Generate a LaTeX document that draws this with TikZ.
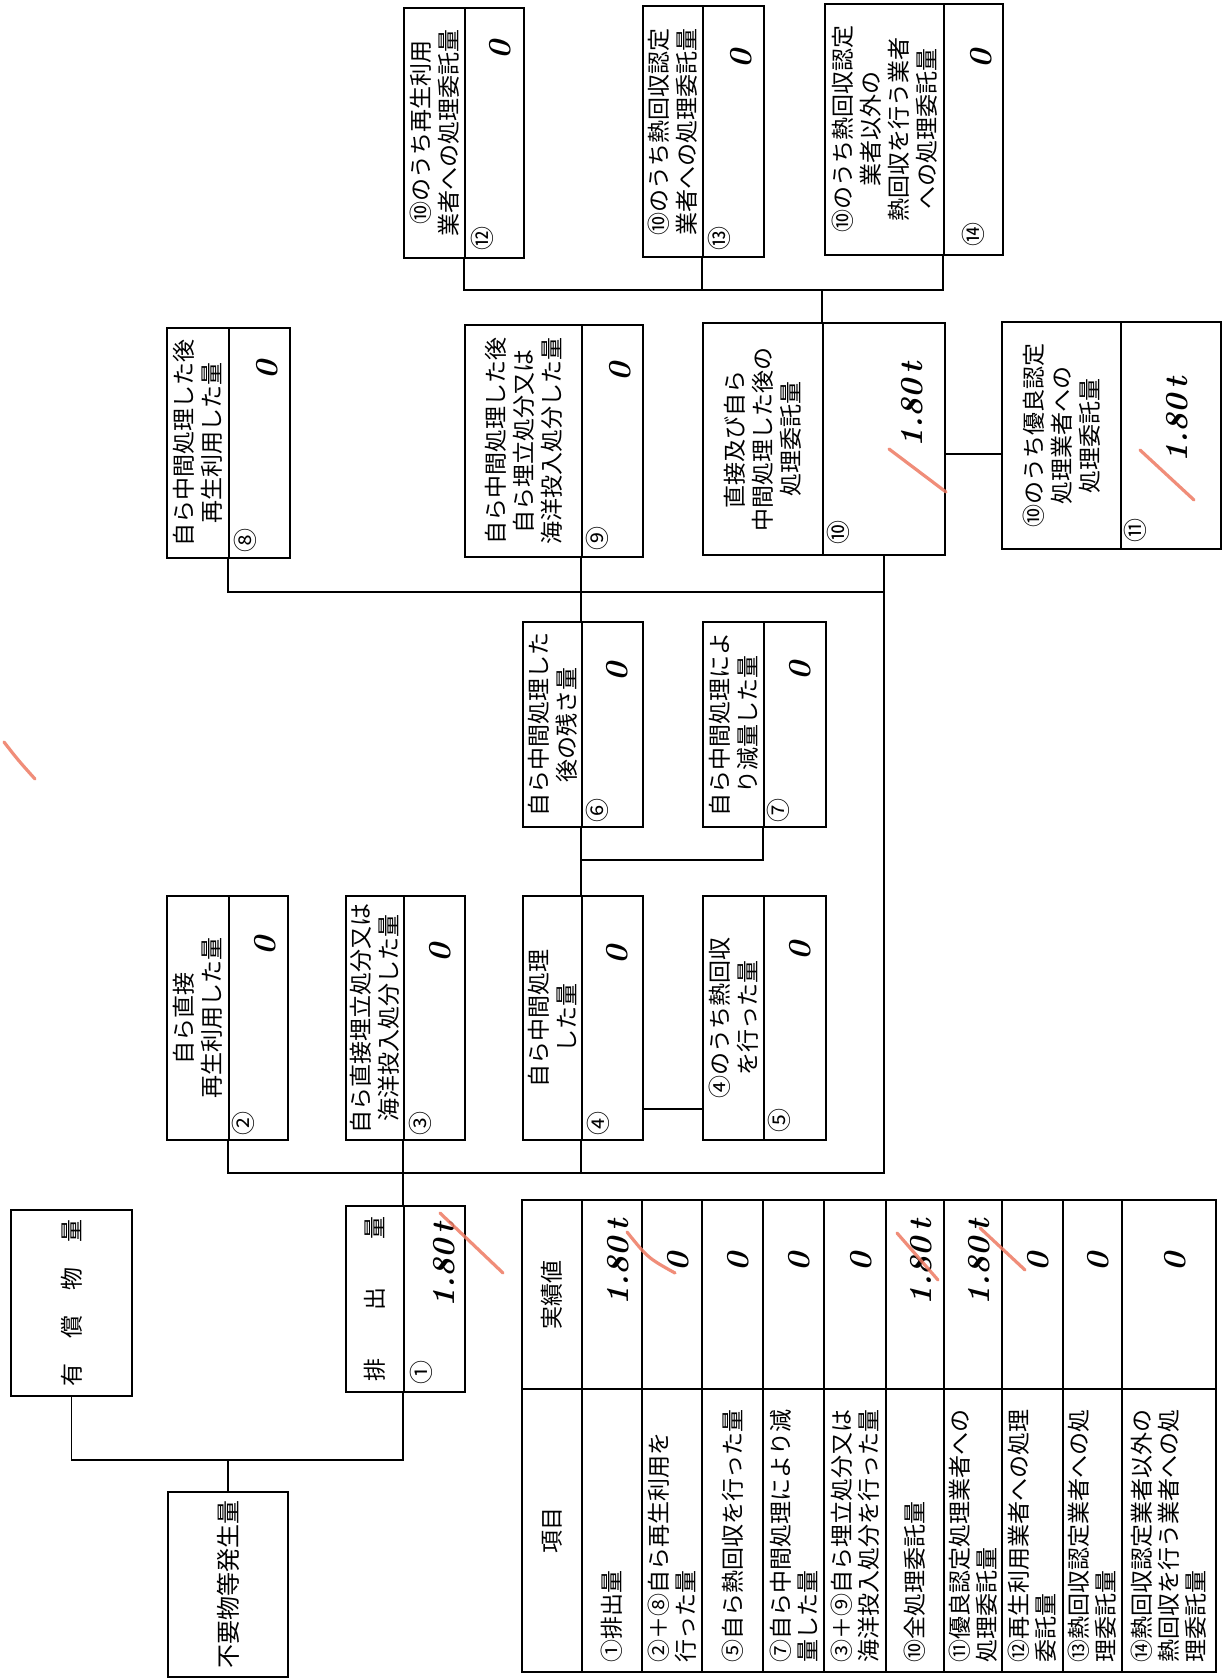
\documentclass[tikz,border=0pt]{standalone}
\usepackage{fontspec}
\newfontfamily\jpfont{Noto Sans CJK JP}
\usetikzlibrary{fit,calc}
\definecolor{inkred}{RGB}{238,122,98}
\tikzset{
  cellbox/.style={draw,line width=0.9pt,inner sep=0pt},
  labtxt/.style={rotate=90,inner sep=0pt,align=center,font=\jpfont\fontsize{11.5}{14}\selectfont},
  circnum/.style={rotate=90,inner sep=0pt,font=\jpfont\fontsize{12}{12}\selectfont},
  handval/.style={rotate=90,inner sep=0pt,font=\fontsize{16}{16}\selectfont\bfseries\itshape},
  itemtxt/.style={rotate=90,inner sep=0pt,align=left,font=\jpfont\fontsize{11.5}{13.5}\selectfont},
  wire/.style={line width=0.9pt},
  tick/.style={inkred,line width=1.6pt,line cap=round,opacity=0.85},
}
% box = label part + value part (split at the divider)
\newcommand\formbox[7]{%
  \node[cellbox,fit={(#2,#5) (#3,#6)}] (#1l) {};
  \node[cellbox,fit={(#3,#5) (#4,#6)}] (#1v) {};
  \node[labtxt] (#1t) at (#1l.center) {#7};
}

\begin{document}
\begin{tikzpicture}[x=0.5pt,y=-0.5pt]
\fill[white] (0,0) rectangle (1222,1680);
\useasboundingbox (0,0) rectangle (1222,1680);

% generation
\node[cellbox,fit={(11,1210) (132,1396)}] (yusho) {};
\node[labtxt] (yushot) at (yusho.center) {有\hspace{12.5pt}償\hspace{12.5pt}物\hspace{12.5pt}量};
\node[cellbox,fit={(168,1492) (288,1677)}] (fuyo) {};
\node[labtxt,font=\jpfont\fontsize{12}{14}\selectfont] (fuyot) at (fuyo.center) {不要物等発生量};

% flow boxes
\formbox{b1}{346}{404}{465}{1206}{1392}{排\hspace{24pt}出\hspace{24pt}量}
\formbox{b2}{167}{229}{288}{896}{1140}{自ら直接\\再生利用した量}
\formbox{b3}{346}{404}{465}{896}{1140}{自ら直接埋立処分又は\\海洋投入処分した量}
\formbox{b4}{523}{582}{643}{896}{1140}{自ら中間処理\\した量}
\formbox{b5}{703}{764}{826}{896}{1140}{④のうち熱回収\\を行った量}
\formbox{b6}{523}{582}{643}{622}{827}{自ら中間処理した\\後の残さ量}
\formbox{b7}{703}{764}{826}{622}{827}{自ら中間処理によ\\り減量した量}
\formbox{b8}{167}{229}{290}{328}{558}{自ら中間処理した後\\再生利用した量}
\formbox{b9}{465}{582}{643}{325}{557}{自ら中間処理した後\\自ら埋立処分又は\\海洋投入処分した量}
\formbox{b10}{703}{823}{945}{323}{555}{直接及び自ら\\中間処理した後の\\処理委託量}
\formbox{b11}{1002}{1121}{1221}{322}{549}{⑩のうち優良認定\\処理業者への\\処理委託量}
\formbox{b12}{404}{465}{524}{8}{258}{⑩のうち再生利用\\業者への処理委託量}
\formbox{b13}{643}{703}{764}{6}{257}{⑩のうち熱回収認定\\業者への処理委託量}
\formbox{b14}{825}{944}{1003}{4}{255}{⑩のうち熱回収認定\\業者以外の\\熱回収を行う業者\\への処理委託量}

% circled numbers
\node[circnum] (n1) at (421,1372) {①};
\node[circnum] (n2) at (243,1123) {②};
\node[circnum] (n3) at (420,1123) {③};
\node[circnum] (n4) at (598,1123) {④};
\node[circnum] (n5) at (779,1120) {⑤};
\node[circnum] (n6) at (597,810) {⑥};
\node[circnum] (n7) at (778,810) {⑦};
\node[circnum] (n8) at (245,540) {⑧};
\node[circnum] (n9) at (597,538) {⑨};
\node[circnum] (n10) at (838,532) {⑩};
\node[circnum] (n11) at (1135,530) {⑪};
\node[circnum] (n12) at (482,238) {⑫};
\node[circnum] (n13) at (719,238) {⑬};
\node[circnum] (n14) at (973,235) {⑭};

% handwritten values
\node[handval] (h1) at (444,1265) {1.80\,t};
\node[handval] (h2) at (265,946) {0};
\node[handval] (h3) at (440,953) {0};
\node[handval] (h4) at (617,955) {0};
\node[handval] (h5) at (800,951) {0};
\node[handval] (h6) at (617,672) {0};
\node[handval] (h7) at (800,671) {0};
\node[handval] (h8) at (267,370) {0};
\node[handval] (h9) at (620,372) {0};
\node[handval] (h10) at (912,405) {1.80\,t};
\node[handval] (h11) at (1177,420) {1.80\,t};
\node[handval] (h12) at (500,50) {0};
\node[handval] (h13) at (741,59) {0};
\node[handval] (h14) at (981,59) {0};

% connector levels
\coordinate (genbus) at (200,1460);
\coordinate (lowbus) at (600,1173);
\coordinate (midbus) at (600,592);
\coordinate (topbus) at (600,290);
\coordinate (c45) at (670,1109);
\coordinate (c67) at (670,860);
\coordinate (c1011) at (970,454);

\draw[wire] (yusho.south) |- (b1v.south west |- genbus) -- (b1v.south west);
\draw[wire] (fuyo.north) -- (fuyo.north |- genbus);
\draw[wire] (b1v.north west) -- (b3v.south west);
\draw[wire] (b2v.south west) |- (b10v.south |- lowbus) -- (b10v.south);
\draw[wire] (b4v.south west) -- (b4v.south west |- lowbus);
\draw[wire] (b4v.north west) -- (b6v.south west);
\draw[wire] (b4v.east |- c45) -- (b5l.west |- c45);
\draw[wire] (b7v.south west) |- (b6v.south west |- c67);
\draw[wire] (b6v.north west) -- (b9v.south west);
\draw[wire] (b8v.south west) |- (b10v.south |- midbus);
\draw[wire] (b10v.east |- c1011) -- (b11l.west |- c1011);
\draw[wire] (b10v.north west) -- (b10v.north west |- topbus);
\draw[wire] (b12v.south west) |- (b14v.south west |- topbus) -- (b14v.south west);
\draw[wire] (b13v.south west) -- (b13v.south west |- topbus);

% results table
\node[cellbox,fit={(522,1200) (582,1389)}] (tv0) {};
\node[cellbox,fit={(522,1389) (582,1672)}] (ti0) {};
\node[itemtxt] (th0) at (tv0) {実績値};
\node[itemtxt] (tn0) at (ti0) {項目};
\foreach \xa/\xb/\k/\itm/\val in {
  582/642/1/{①排出量}/{1.80\,t},
  642/702/2/{②＋⑧自ら再生利用を\\行った量}/0,
  702/763/3/{⑤自ら熱回収を行った量}/0,
  763/824/4/{⑦自ら中間処理により減\\量した量}/0,
  824/886/5/{③＋⑨自ら埋立処分又は\\海洋投入処分を行った量}/0,
  886/944/6/{⑩全処理委託量}/{1.80\,t},
  944/1002/7/{⑪優良認定処理業者への\\処理委託量}/{1.80\,t},
  1002/1063/8/{⑫再生利用業者への処理\\委託量}/0,
  1063/1122/9/{⑬熱回収認定業者への処\\理委託量}/0,
  1122/1216/10/{⑭熱回収認定業者以外の\\熱回収を行う業者への処\\理委託量}/0}
{
  \node[cellbox,fit={(\xa,1200) (\xb,1389)}] (tv\k) {};
  \node[cellbox,fit={(\xa,1389) (\xb,1672)}] (ti\k) {};
  \node[itemtxt,anchor=west] (tn\k) at ($(ti\k.south)+(0,-10)$) {\itm};
  \node[handval] (th\k) at ($(tv\k.center)+(6,-32)$) {\val};
}

% red check marks
\draw[tick] (440,1213) -- (503,1273);
\draw[tick] (4,742) .. controls (18,760) .. (35,779);
\draw[tick] (889,449) -- (946,492);
\draw[tick] (1140,450) -- (1194,500);
\draw[tick] (627,1232) .. controls (648,1258) .. (675,1273);
\draw[tick] (897,1233) -- (938,1280);
\draw[tick] (980,1228) -- (1025,1270);
\end{tikzpicture}
\end{document}
